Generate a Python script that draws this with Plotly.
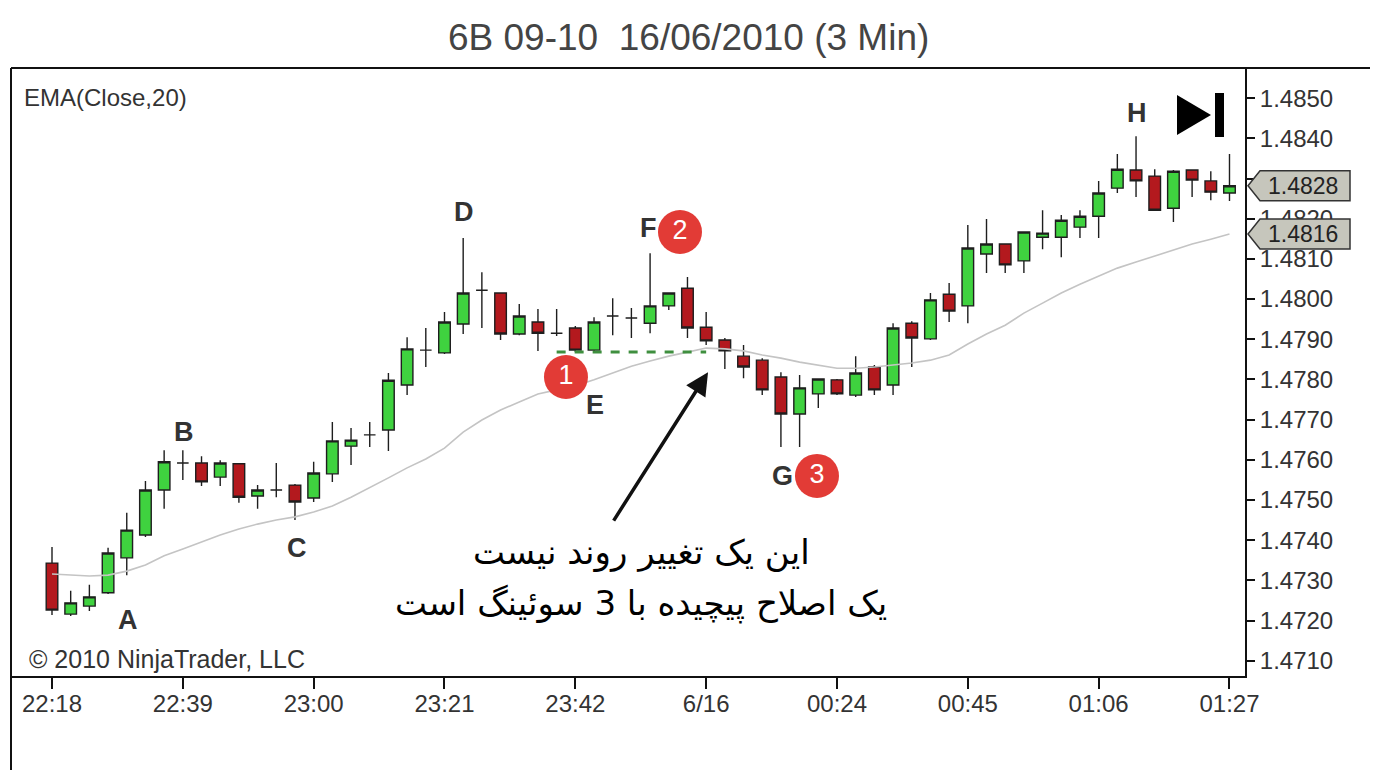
import plotly.graph_objects as go

# ---------------- data ----------------
opens = [1.47343, 1.47216, 1.47236, 1.47269, 1.47356, 1.47413, 1.47525, 1.47592, 1.47592, 1.47557,
         1.47590, 1.47510, 1.47525, 1.47537, 1.47505, 1.47565, 1.47634, 1.47662, 1.47674, 1.47786,
         1.47873, 1.47866, 1.47938, 1.48022, 1.48015, 1.47913, 1.47943, 1.47915, 1.47928, 1.47873,
         1.47958, 1.47953, 1.47940, 1.47983, 1.48027, 1.47930, 1.47898, 1.47858, 1.47848, 1.47806,
         1.47714, 1.47764, 1.47799, 1.47761, 1.47831, 1.47786, 1.47940, 1.47901, 1.48012, 1.47983,
         1.48112, 1.48137, 1.48095, 1.48154, 1.48154, 1.48179, 1.48206, 1.48276, 1.48321, 1.48306,
         1.48226, 1.48321, 1.48294, 1.48264]
highs = [1.47383, 1.47274, 1.47289, 1.47381, 1.47468, 1.47547, 1.47624, 1.47624, 1.47609, 1.47599,
         1.47592, 1.47537, 1.47592, 1.47540, 1.47595, 1.47694, 1.47679, 1.47694, 1.47816, 1.47905,
         1.47928, 1.47968, 1.48152, 1.48067, 1.48017, 1.47988, 1.47975, 1.47975, 1.47933, 1.47955,
         1.48002, 1.47978, 1.48114, 1.48015, 1.48055, 1.47968, 1.47903, 1.47886, 1.47853, 1.47818,
         1.47811, 1.47803, 1.47801, 1.47858, 1.47836, 1.47940, 1.47945, 1.48015, 1.48040, 1.48184,
         1.48199, 1.48139, 1.48169, 1.48221, 1.48209, 1.48221, 1.48294, 1.48361, 1.48405, 1.48323,
         1.48321, 1.48323, 1.48318, 1.48361]
lows = [1.47214, 1.47211, 1.47224, 1.47266, 1.47313, 1.47408, 1.47478, 1.47550, 1.47535, 1.47535,
        1.47493, 1.47478, 1.47507, 1.47450, 1.47495, 1.47545, 1.47587, 1.47632, 1.47622, 1.47761,
        1.47831, 1.47863, 1.47913, 1.47928, 1.47898, 1.47910, 1.47871, 1.47908, 1.47868, 1.47871,
        1.47910, 1.47903, 1.47915, 1.47973, 1.47903, 1.47886, 1.47826, 1.47803, 1.47761, 1.47632,
        1.47632, 1.47729, 1.47761, 1.47756, 1.47761, 1.47761, 1.47831, 1.47898, 1.47943, 1.47940,
        1.48065, 1.48065, 1.48065, 1.48124, 1.48104, 1.48152, 1.48152, 1.48264, 1.48254, 1.48219,
        1.48192, 1.48254, 1.48246, 1.48244]
closes = [1.47226, 1.47244, 1.47259, 1.47368, 1.47425, 1.47525, 1.47595, 1.47592, 1.47545, 1.47592,
          1.47507, 1.47525, 1.47525, 1.47495, 1.47567, 1.47647, 1.47649, 1.47662, 1.47798, 1.47876,
          1.47873, 1.47943, 1.48015, 1.48022, 1.47913, 1.47958, 1.47915, 1.47915, 1.47873, 1.47943,
          1.47958, 1.47953, 1.47983, 1.48015, 1.47928, 1.47896, 1.47871, 1.47831, 1.47774, 1.47714,
          1.47779, 1.47801, 1.47764, 1.47816, 1.47774, 1.47928, 1.47903, 1.47998, 1.47970, 1.48127,
          1.48137, 1.48085, 1.48167, 1.48164, 1.48196, 1.48206, 1.48264, 1.48323, 1.48294, 1.48221,
          1.48318, 1.48296, 1.48266, 1.48282]
ema20 = [1.47316, 1.47313, 1.47311, 1.47313, 1.47323, 1.47338, 1.47361, 1.47378, 1.47396, 1.47413,
         1.47428, 1.47440, 1.47450, 1.47458, 1.47470, 1.47485, 1.47507, 1.47530, 1.47555, 1.47580,
         1.47602, 1.47629, 1.47669, 1.47699, 1.47724, 1.47744, 1.47764, 1.47774, 1.47784, 1.47799,
         1.47816, 1.47833, 1.47846, 1.47858, 1.47868, 1.47878, 1.47876, 1.47871, 1.47861, 1.47853,
         1.47843, 1.47836, 1.47828, 1.47828, 1.47831, 1.47836, 1.47841, 1.47848, 1.47861, 1.47888,
         1.47913, 1.47935, 1.47965, 1.47990, 1.48015, 1.48037, 1.48057, 1.48077, 1.48092, 1.48107,
         1.48122, 1.48137, 1.48149, 1.48162]

tick_labels = ["22:18", "22:39", "23:00", "23:21", "23:42", "6/16", "00:24", "00:45", "01:06", "01:27"]
bars_per_tick = 7

letter_text = ["A", "B", "C", "D", "E", "F", "G", "H"]
letter_bar = [4.07, 7.06, 13.1, 22.04, 29.05, 31.9, 39.06, 58.05]
letter_price = [1.47201, 1.47669, 1.47381, 1.48216, 1.47736, 1.48177, 1.47560, 1.48463]

circle_text = ["1", "2", "3"]
circle_bar = [27.5, 33.6, 40.93]
circle_price = [1.47806, 1.48167, 1.47560]

swing_start_bar, swing_end_bar, swing_ref_bar = 27, 35, 28
arrow_tip = (35.1, 1.47818)
arrow_tail = (30.0, 1.47445)

title_text = "6B 09-10  16/06/2010 (3 Min)"
note_line1 = "این یک تغییر روند نیست"
note_line2 = "یک اصلاح پیچیده با 3 سوئینگ است"

# ---------------- figure ----------------
x = list(range(len(opens)))
FONT = "Liberation Sans, Arial, sans-serif"

fig = go.Figure()

fig.add_trace(go.Scatter(x=x, y=ema20, mode="lines",
                         line=dict(color="#c4c4c4", width=1.6), hoverinfo="skip"))

fig.add_trace(go.Candlestick(
    x=x, open=opens, high=highs, low=lows, close=closes,
    increasing=dict(fillcolor="#3fd23f", line=dict(color="#1e1e1e", width=1.4)),
    decreasing=dict(fillcolor="#b3191e", line=dict(color="#1e1e1e", width=1.4)),
    whiskerwidth=0,
))

fig.add_trace(go.Scatter(x=[swing_start_bar, swing_end_bar],
                         y=[lows[swing_ref_bar], lows[swing_ref_bar]],
                         mode="lines", line=dict(color="#3f8f3f", width=3, dash="dash"),
                         hoverinfo="skip"))

fig.add_trace(go.Scatter(x=circle_bar, y=circle_price, mode="markers+text",
                         text=circle_text, textposition="middle center",
                         marker=dict(size=44, color="#e23b36", line=dict(width=0)),
                         textfont=dict(family=FONT, size=27, color="white"),
                         cliponaxis=False, hoverinfo="skip"))

annotations = []
for t, b, p in zip(letter_text, letter_bar, letter_price):
    annotations.append(dict(x=b, y=p, xref="x", yref="y", text=t, showarrow=False,
                            xanchor="center", yanchor="middle",
                            font=dict(family=FONT, size=27, color="#333333", weight="bold")))

annotations.append(dict(x=arrow_tip[0], y=arrow_tip[1], ax=arrow_tail[0], ay=arrow_tail[1],
                        xref="x", yref="y", axref="x", ayref="y", text="", showarrow=True,
                        arrowhead=2, arrowsize=1.3, arrowwidth=3.5, arrowcolor="#111111"))

# geometry helpers: window pixels -> paper (page body has an 8px margin)
OFF = 8
W, H = 1370, 762
L, R, T, B = 4, 133, 60, 94
PW, PH = W - L - R, H - T - B
def px(v):
    return (v - OFF - L) / PW
def py(v):
    return (H - B - (v - OFF)) / PH

def txt(xp, yp, text, size, color="#333333", family=FONT, xanchor="center"):
    return dict(x=px(xp), y=py(yp), xref="paper", yref="paper", text=text,
                showarrow=False, xanchor=xanchor, yanchor="middle",
                font=dict(family=family, size=size, color=color))

annotations.append(txt(688, 38, title_text, 37, "#444444"))
annotations.append(txt(22, 98, "EMA(Close,20)", 24, xanchor="left"))
annotations.append(txt(27, 659, "© 2010 NinjaTrader, LLC", 25, xanchor="left"))
annotations.append(txt(641, 552, note_line1, 34, "#000000", "DejaVu Sans, sans-serif"))
annotations.append(txt(641, 603, note_line2, 34, "#000000", "DejaVu Sans, sans-serif"))

shapes = []
# price markers on the axis (last close and last EMA)
half = 15 / 40200.0
for val in (closes[-1], ema20[-1]):
    x0, x1, x2 = px(1248), px(1260), px(1350)
    path = (f"M {x0},{val} L {x1},{val + half} L {x2},{val + half} "
            f"L {x2},{val - half} L {x1},{val - half} Z")
    shapes.append(dict(type="path", xref="paper", yref="y", path=path,
                       fillcolor="#c6c6bc", line=dict(color="#333333", width=1.5)))
    annotations.append(dict(x=(x1 + x2) / 2 - 0.002, y=val, xref="paper", yref="y",
                            text=f"{val:.4f}", showarrow=False,
                            xanchor="center", yanchor="middle",
                            font=dict(family=FONT, size=23, color="#222222")))

# play-to-end icon
shapes.append(dict(type="path", xref="paper", yref="paper",
                   path=f"M {px(1177)},{py(95)} L {px(1211)},{py(115)} L {px(1177)},{py(135)} Z",
                   fillcolor="#000000", line=dict(width=0)))
shapes.append(dict(type="rect", xref="paper", yref="paper",
                   x0=px(1215), x1=px(1224), y0=py(137), y1=py(93),
                   fillcolor="#000000", line=dict(width=0)))
# outer frame (left and top)
shapes.append(dict(type="line", xref="paper", yref="paper", x0=px(11), x1=px(11),
                   y0=py(68), y1=py(772), line=dict(color="#111111", width=2)))
shapes.append(dict(type="line", xref="paper", yref="paper", x0=px(11), x1=px(1380),
                   y0=py(68), y1=py(68), line=dict(color="#111111", width=2)))

n = len(opens)
fig.update_layout(
    width=W, height=H,
    margin=dict(l=L, r=R, t=T, b=B, autoexpand=False),
    paper_bgcolor="white", plot_bgcolor="white",
    showlegend=False,
    boxgap=0.38, boxgroupgap=0,
    annotations=annotations, shapes=shapes,
    xaxis=dict(range=[-2.14, 63.83], rangeslider=dict(visible=False),
               tickvals=list(range(0, n, bars_per_tick)), ticktext=tick_labels,
               ticks="outside", ticklen=11, tickwidth=1.5, tickcolor="#111111",
               ticklabelstandoff=-6,
               showline=True, linecolor="#111111", linewidth=2,
               showgrid=False, zeroline=False,
               tickfont=dict(family=FONT, size=24, color="#333333")),
    yaxis=dict(side="right", range=[1.47062, 1.48575], dtick=0.001, tick0=1.471,
               tickformat=".4f", ticks="outside", ticklen=8, tickwidth=1.5, tickcolor="#111111",
               showline=True, linecolor="#111111", linewidth=2,
               showgrid=False, zeroline=False,
               tickfont=dict(family=FONT, size=24, color="#333333")),
)

fig.write_html("out.html")
